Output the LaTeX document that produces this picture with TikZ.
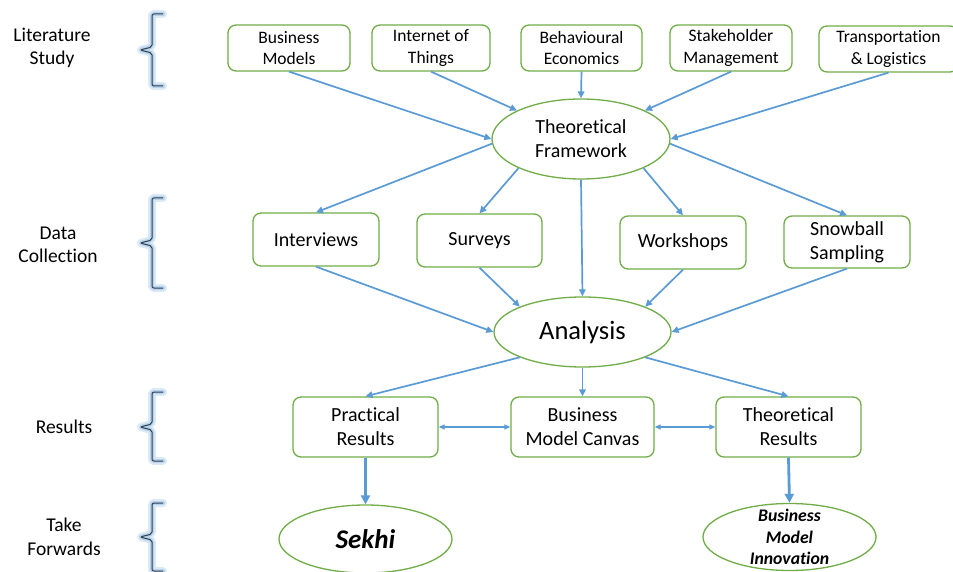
\documentclass[tikz,border=0pt]{standalone}
\usepackage{fontspec}
\setmainfont[Ligatures=NoCommon]{Carlito}
\usetikzlibrary{shapes.geometric,arrows.meta}
\definecolor{gborder}{HTML}{70AD47}
\definecolor{barrow}{HTML}{5B9BD5}
\definecolor{glowc}{HTML}{9DC3E6}
\definecolor{bracec}{HTML}{33404C}
\tikzset{
  box/.style={draw=gborder, line width=1.3pt, rounded corners=8pt, fill=white, align=center, inner sep=0pt},
  ell/.style={draw=gborder, line width=1.3pt, ellipse, fill=white, align=center, inner sep=0pt},
  arr/.style={draw=barrow, line width=1.7pt, -{Triangle[length=7pt,width=6.5pt]}},
  darr/.style={draw=barrow, line width=1.3pt, {Triangle[length=6pt,width=5pt]}-{Triangle[length=6pt,width=5pt]}},
  tarr/.style={draw=barrow, line width=2.8pt, -{Triangle[length=9pt,width=9pt]}},
  fa/.style={font=\fontsize{17.5}{21.5}\selectfont},
  fb/.style={font=\fontsize{20}{24}\selectfont},
  fc/.style={font=\fontsize{26.5}{30}\selectfont},
  fl/.style={font=\fontsize{19.5}{23.5}\selectfont, align=center},
  fs/.style={font=\fontsize{27}{30}\selectfont\bfseries\itshape},
  fi/.style={font=\fontsize{17.7}{21.5}\selectfont\bfseries\itshape, align=center},
}
\begin{document}
\begin{tikzpicture}[x=1pt,y=-1pt]
\useasboundingbox (0,0) rectangle (953,572);
\fill[white] (0,0) rectangle (953,572);

% left labels
\node[fl] (L1) at (52,48) {Literature\\Study};
\node[fl] (L2) at (58,245) {Data\\Collection};
\node[fl] (L3) at (64,427) {Results};
\node[fl] (L4) at (64,537) {Take\\Forwards};

% braces
\foreach \t/\m/\b in {14/50/86, 198/243/288, 392/427/461, 503/537/571}{
  \draw[glowc, opacity=0.35, line width=8pt, line join=round, line cap=round, rounded corners=2pt]
    (163,\t) -- (152,\t) -- (152,{\m-3}) -- (140,\m) -- (152,{\m+3}) -- (152,\b) -- (163,\b);
  \draw[glowc, opacity=0.6, line width=4pt, line join=round, line cap=round, rounded corners=2pt]
    (163,\t) -- (152,\t) -- (152,{\m-3}) -- (140,\m) -- (152,{\m+3}) -- (152,\b) -- (163,\b);
  \draw[bracec, line width=1pt, line join=round, rounded corners=2pt]
    (163,\t) -- (152,\t) -- (152,{\m-3}) -- (140,\m) -- (152,{\m+3}) -- (152,\b) -- (163,\b);
}

% top row
\node[box,fa,minimum width=122pt,minimum height=46pt] (BM) at (289,48) {Business\\Models};
\node[box,fa,minimum width=118pt,minimum height=46pt] (IoT) at (431,48) {Internet of\\Things};
\node[box,fa,minimum width=121pt,minimum height=46pt] (BE) at (581.5,48) {Behavioural\\Economics};
\node[box,fa,minimum width=122pt,minimum height=46pt] (SM) at (731,48) {Stakeholder\\Management};
\node[box,fa,minimum width=139pt,minimum height=46pt] (TL) at (888.5,49) {Transportation\\\& Logistics};

% theoretical framework
\node[ell,fb,minimum width=178pt,minimum height=80pt] (TF) at (581,139) {Theoretical\\Framework};

% data collection row
\node[box,fb,minimum width=126pt,minimum height=53pt] (Int) at (316,239.5) {Interviews};
\node[box,fb,minimum width=125pt,minimum height=53pt] (Sur) at (479.5,240.5) {Surveys};
\node[box,fb,minimum width=126pt,minimum height=53pt] (Wor) at (683,242.5) {Workshops};
\node[box,fb,minimum width=126pt,minimum height=52pt] (Snow) at (847,242) {Snowball\\Sampling};

% analysis
\node[ell,fc,minimum width=177pt,minimum height=70pt] (An) at (582.5,332) {Analysis};

% results row
\node[box,fb,minimum width=145pt,minimum height=60pt] (PR) at (365.5,427) {Practical\\Results};
\node[box,fb,minimum width=143pt,minimum height=60pt] (BMC) at (582.5,427) {Business\\Model Canvas};
\node[box,fb,minimum width=145pt,minimum height=60pt] (TR) at (788.5,427) {Theoretical\\Results};

% take forwards
\node[ell,fs,minimum width=173pt,minimum height=68pt] (Sekhi) at (365.5,539) {Sekhi};
\node[ell,minimum width=173pt,minimum height=67pt] (BMI) at (789.5,537) {};
\node[fi] (BMIt) at (BMI.center) {Business\\Model\\Innovation};

% arrows
\draw[arr] (BM.south) -- (TF.180);
\draw[arr] (IoT.south) -- (TF.156);
\draw[arr] (BE.south) -- (TF.north);
\draw[arr] (SM.south) -- (TF.24);
\draw[arr] (TL.south) -- (TF.east);
\draw[arr] (TF.183) -- (Int.north);
\draw[arr] (TF.205) -- (Sur.north);
\draw[arr] (TF.south) -- (An.north);
\draw[arr] (TF.335) -- (Wor.north);
\draw[arr] (TF.357) -- (Snow.north);
\draw[arr] (Int.south) -- (An.west);
\draw[arr] (Sur.south) -- (An.158);
\draw[arr] (Wor.south) -- (An.22);
\draw[arr] (Snow.south) -- (An.east);
\draw[arr] (An.202) -- (PR.north);
\draw[arr] (An.south) -- (BMC.north);
\draw[arr] (An.338) -- (TR.north);
\draw[darr] (PR.east) -- (BMC.west);
\draw[darr] (BMC.east) -- (TR.west);
\draw[tarr] (PR.south) -- (Sekhi.north);
\draw[tarr] (TR.south) -- (BMI.north);
\end{tikzpicture}
\end{document}
